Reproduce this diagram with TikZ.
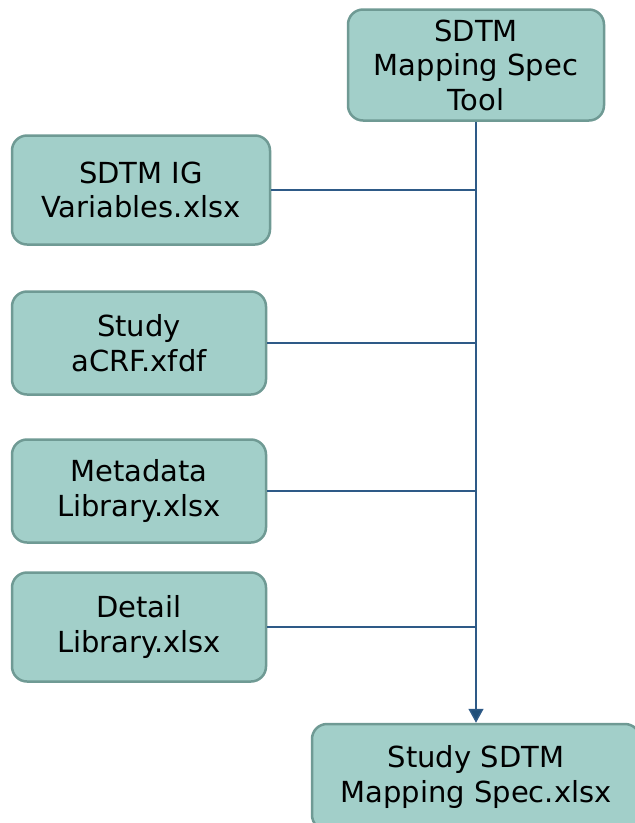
\documentclass[tikz,border=0pt]{standalone}
\usepackage{fontspec}
\setmainfont{DejaVu Sans}
\usetikzlibrary{arrows.meta}
\definecolor{boxfill}{HTML}{A2CFC9}
\definecolor{boxline}{HTML}{6F9A94}
\definecolor{conn}{HTML}{2E5A87}
\definecolor{arrowc}{HTML}{1F4E79}
\begin{document}
\begin{tikzpicture}[x=1pt,y=-1pt,
  filebox/.style={draw=boxline, fill=boxfill, line width=2.5pt, rounded corners=15pt,
    align=center, inner sep=0pt, font=\fontsize{29}{34.5}\selectfont, text=black},
  conline/.style={draw=conn, line width=1.5pt}]
\useasboundingbox (0,0) rectangle (635,823);
\clip (0,0) rectangle (635,823);
\node[filebox, minimum width=256pt, minimum height=111pt] (tool) at (476,65) {SDTM\\Mapping Spec\\Tool};
\node[filebox, minimum width=258pt, minimum height=109pt] (ig) at (141,190) {SDTM IG\\Variables.xlsx};
\node[filebox, minimum width=254pt, minimum height=103pt] (acrf) at (139,343) {Study\\aCRF.xfdf};
\node[filebox, minimum width=254pt, minimum height=103pt] (meta) at (139,491) {Metadata\\Library.xlsx};
\node[filebox, minimum width=254pt, minimum height=109pt] (detail) at (139,627) {Detail\\Library.xlsx};
\node[filebox, minimum width=328pt, minimum height=106pt] (spec) at (476,777) {Study SDTM\\Mapping Spec.xlsx};
\draw[conline] (ig.east) -- (ig.east -| tool.south);
\draw[conline] (acrf.east) -- (acrf.east -| tool.south);
\draw[conline] (meta.east) -- (meta.east -| tool.south);
\draw[conline] (detail.east) -- (detail.east -| tool.south);
\draw[conline, -{Triangle[width=15pt,length=14pt,fill=arrowc]}] (tool.south) -- (spec.north);
\end{tikzpicture}
\end{document}
